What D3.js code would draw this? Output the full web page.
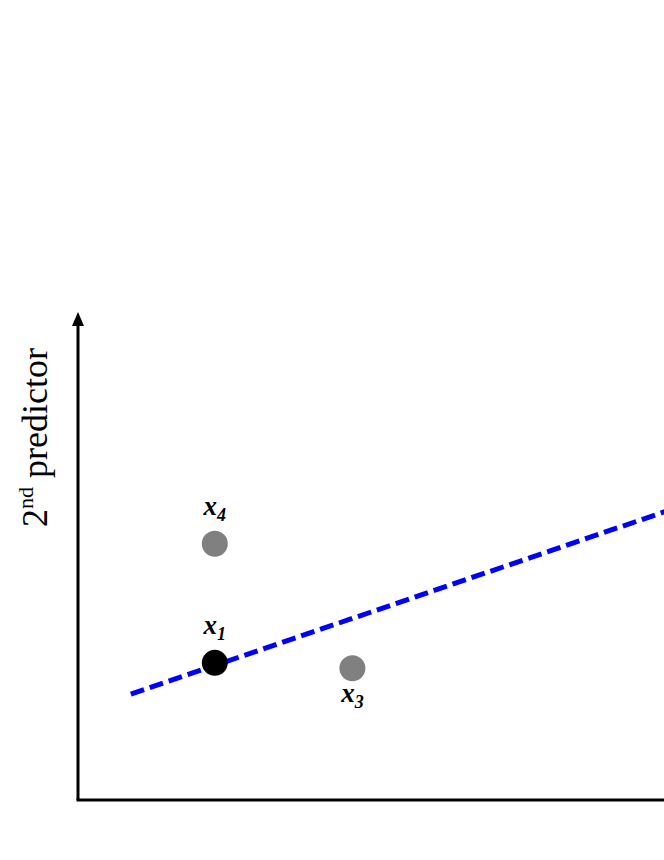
<!DOCTYPE html>
<html>
<head>
<meta charset="utf-8">
<script src="https://cdn.jsdelivr.net/npm/d3@7"></script>
<style>
  html, body { margin: 0; padding: 0; background: #fff; }
  svg { display: block; }
</style>
</head>
<body>
<script>
// Data (arbitrary predictor units)
const pointNames = ["x4", "x1", "x3"];
const pointSubs = ["4", "1", "3"];
const pointX = [1.71, 1.71, 3.43];
const pointY = [5.25, 2.81, 2.70];
const pointColors = ["#808080", "#000000", "#808080"];
const labelAbove = [true, true, false];

// Dashed boundary line
const lineX = [0.66, 10];
const lineY = [2.17, 7.40];

const yAxisTitle = "predictor";
const yAxisSup = "nd";
const yAxisNum = "2";

// Size
const width = 664, height = 860;
const svg = d3.select("body").append("svg")
  .attr("width", width).attr("height", height);

const x = d3.scaleLinear().domain([0, 10]).range([78, 878]);
const y = d3.scaleLinear().domain([0, 10]).range([800, 312]);

// Axes
svg.append("line")
  .attr("x1", x(0)).attr("y1", y(0))
  .attr("x2", x(0)).attr("y2", y(10) + 10)
  .attr("stroke", "#000").attr("stroke-width", 3);
svg.append("path")
  .attr("d", `M${x(0)},${y(10)} L${x(0) - 6},${y(10) + 14} L${x(0) + 6},${y(10) + 14} Z`)
  .attr("fill", "#000");
svg.append("line")
  .attr("x1", x(0) - 1.5).attr("y1", y(0))
  .attr("x2", x(10)).attr("y2", y(0))
  .attr("stroke", "#000").attr("stroke-width", 3);

// Y axis title
const title = svg.append("text")
  .attr("transform", `translate(47,527) rotate(-90)`)
  .attr("font-family", "'Liberation Serif', 'Times New Roman', serif")
  .attr("font-size", 36)
  .attr("fill", "#000");
title.append("tspan").text(yAxisNum);
title.append("tspan").attr("font-size", 22).attr("dy", -14).text(yAxisSup);
title.append("tspan").attr("dy", 14).text(" " + yAxisTitle);

// Dashed line
svg.append("line")
  .attr("x1", x(lineX[0])).attr("y1", y(lineY[0]))
  .attr("x2", x(lineX[1])).attr("y2", y(lineY[1]))
  .attr("stroke", "#0000ff").attr("stroke-width", 5)
  .attr("stroke-dasharray", "14,6");

// Points
pointNames.forEach((name, i) => {
  svg.append("circle")
    .attr("cx", x(pointX[i])).attr("cy", y(pointY[i]))
    .attr("r", 13).attr("fill", pointColors[i]);
  const ly = labelAbove[i] ? y(pointY[i]) - 29 : y(pointY[i]) + 34;
  const t = svg.append("text")
    .attr("x", x(pointX[i])).attr("y", ly)
    .attr("text-anchor", "middle")
    .attr("font-family", "'Liberation Serif', 'Times New Roman', serif")
    .attr("font-style", "italic").attr("font-weight", "bold")
    .attr("font-size", 27).attr("fill", "#000");
  t.append("tspan").text("x");
  t.append("tspan").attr("font-size", 18).attr("dy", 6).text(pointSubs[i]);
});
</script>
</body>
</html>
